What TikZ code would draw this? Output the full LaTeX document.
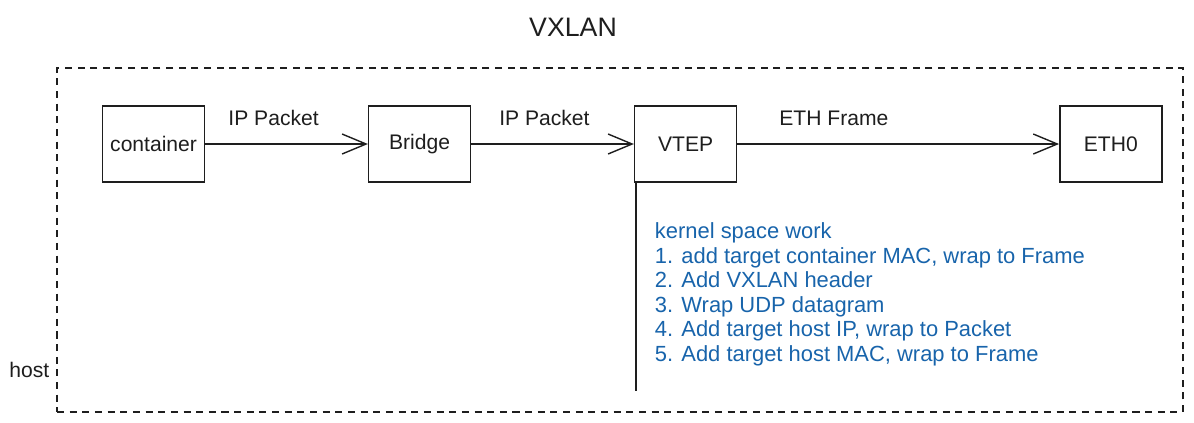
\documentclass[tikz,border=0pt]{standalone}
\usepackage{fontspec}
\setmainfont{Liberation Sans}
\usepackage{tikz}
\usetikzlibrary{arrows.meta,positioning}
\definecolor{inkDark}{HTML}{1E1E1E}
\definecolor{inkBlue}{HTML}{1864AB}
\tikzstyle{recNode} = [rectangle, minimum width=2.55cm, minimum height=1.9cm, text centered, draw=inkDark, line width=1pt, text=inkDark, font=\fontsize{15}{17}\selectfont]
\tikzstyle{eNode} = [text=inkDark, font=\fontsize{15}{17}\selectfont]
\tikzstyle{hostFrame} = [rectangle, draw=inkDark, line width=1pt, dash pattern=on 5pt off 4pt, minimum width=28.15cm, minimum height=8.6cm]
\tikzstyle{noteNode} = [text=inkBlue, align=left, inner sep=0pt, font=\fontsize{15.6}{17.4}\selectfont]
\tikzstyle{arrow} = [line width=1pt, -{Straight Barb[length=6mm,width=5mm]}, draw=inkDark]
\tikzstyle{wire} = [line width=1pt, draw=inkDark]

\begin{document}
\begin{tikzpicture}[node distance=6.65cm]
    \useasboundingbox (0,0) rectangle (29.85,-10.55);
    \node (hostbox) [hostFrame] at (15.5,-6) {};
    \node (title) [eNode, above=0.65cm of hostbox.north, xshift=-1.175cm, font=\fontsize{19}{22}\selectfont] {VXLAN};
    \node (hostlabel) [eNode, left=0.05cm of hostbox.west, yshift=-3.25cm] {host};

    \node (container) [recNode] at (3.84,-3.6) {container};
    \node (bridge) [recNode, right of=container] {Bridge};
    \node (vtep) [recNode, right of=bridge] {VTEP};
    \node (eth) [recNode, right of=vtep, xshift=3.98cm] {ETH0};

    \draw [arrow] (container) -- node[eNode, above=0.33cm, pos=0.42] {IP Packet} (bridge);
    \draw [arrow] (bridge) -- node[eNode, above=0.33cm, pos=0.45] {IP Packet} (vtep);
    \draw [arrow] (vtep) -- node[eNode, above=0.33cm, pos=0.3] {ETH Frame} (eth);

    \coordinate [below=5.2cm of vtep.south west, xshift=0.05cm] (workend);
    \draw [wire] ([xshift=0.05cm]vtep.south west) -- (workend);

    \node (work) [noteNode, below right=1cm and 0.52cm of vtep.south west] {kernel space work\\
        1. add target container MAC, wrap to Frame\\
        2. Add VXLAN header\\
        3. Wrap UDP datagram\\
        4. Add target host IP, wrap to Packet\\
        5. Add target host MAC, wrap to Frame};
\end{tikzpicture}
\end{document}
